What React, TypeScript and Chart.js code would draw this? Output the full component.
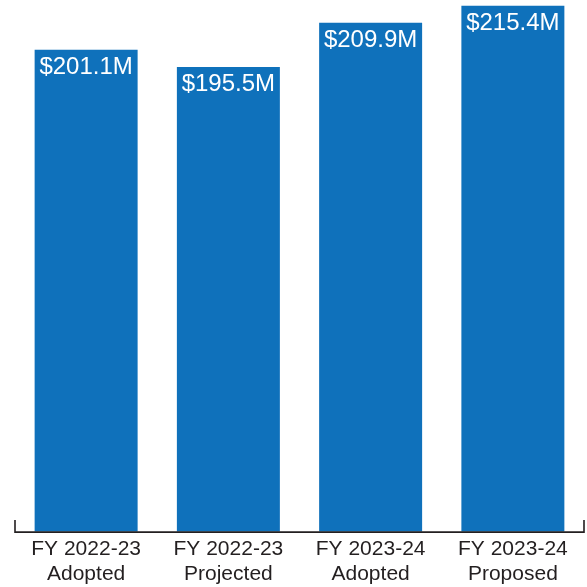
import React, { useEffect, useRef } from "react";
import { Chart, registerables } from "chart.js";

Chart.register(...registerables);

const categories: string[][] = [
  ["FY 2022-23", "Adopted"],
  ["FY 2022-23", "Projected"],
  ["FY 2023-24", "Adopted"],
  ["FY 2023-24", "Proposed"],
];
const values: number[] = [201.1, 195.5, 209.9, 215.4];
const valueLabels: string[] = ["$201.1M", "$195.5M", "$209.9M", "$215.4M"];

const BAR = "#0f71bb";
const INK = "#231f20";
const FONT = "'Liberation Sans', Arial, Helvetica, sans-serif";

const labelPlugin = {
  id: "barLabels",
  afterDatasetsDraw(chart: any) {
    const ctx = chart.ctx;
    const meta = chart.getDatasetMeta(0);
    ctx.save();
    ctx.fillStyle = "#ffffff";
    ctx.font = `24px ${FONT}`;
    ctx.textAlign = "center";
    ctx.textBaseline = "alphabetic";
    meta.data.forEach((bar: any, i: number) => {
      ctx.fillText(valueLabels[i], bar.x, bar.y + 24);
    });
    ctx.restore();
  },
};

const axisPlugin = {
  id: "axisLine",
  afterDraw(chart: any) {
    const { ctx, chartArea } = chart;
    const y = chartArea.bottom + 0.5;
    ctx.save();
    ctx.strokeStyle = INK;
    ctx.lineWidth = 1.6;
    ctx.beginPath();
    ctx.moveTo(chartArea.left, y - 12);
    ctx.lineTo(chartArea.left, y);
    ctx.lineTo(chartArea.right, y);
    ctx.lineTo(chartArea.right, y - 12);
    ctx.stroke();
    ctx.restore();
  },
};

export default function App() {
  const ref = useRef<HTMLCanvasElement | null>(null);
  useEffect(() => {
    if (!ref.current) return;
    const chart = new Chart(ref.current, {
      type: "bar",
      data: {
        labels: categories,
        datasets: [
          {
            data: values,
            backgroundColor: BAR,
            borderWidth: 0,
            categoryPercentage: 1,
            barPercentage: 0.724,
          },
        ],
      },
      options: {
        animation: false,
        responsive: false,
        maintainAspectRatio: false,
        layout: { padding: { left: 15, right: 3, top: 0, bottom: -5 } },
        plugins: { legend: { display: false }, tooltip: { enabled: false } },
        scales: {
          x: {
            grid: { display: false, drawTicks: false },
            border: { display: false },
            ticks: {
              color: INK,
              font: { family: FONT, size: 21, lineHeight: 1.2 },
              padding: 5,
              maxRotation: 0,
              autoSkip: false,
            },
          },
          y: {
            display: false,
            min: 44.5,
            max: 217.3,
          },
        },
      },
      plugins: [labelPlugin, axisPlugin],
    });
    return () => chart.destroy();
  }, []);
  return (
    <div style={{ position: "fixed", left: 0, top: 0, width: 587, height: 587, background: "#fff" }}>
      <canvas ref={ref} width={587} height={587} style={{ display: "block" }} />
    </div>
  );
}
